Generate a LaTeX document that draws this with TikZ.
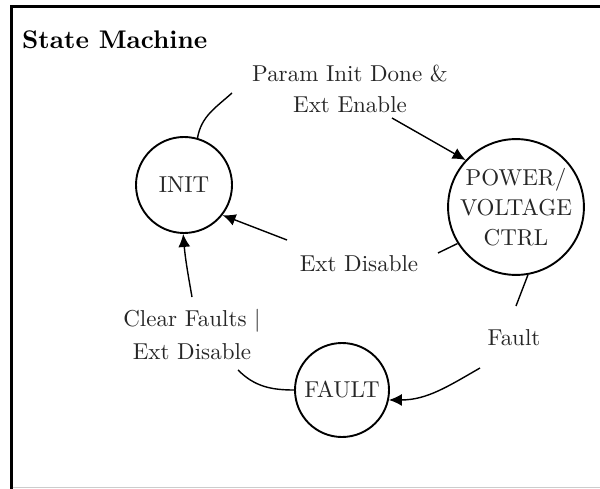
\documentclass[tikz,border=0pt]{standalone}
\usepackage{fontspec}
\setmainfont{lmroman10-regular.otf}[BoldFont=lmroman10-bold.otf]
\usetikzlibrary{arrows.meta}
\begin{document}
\begin{tikzpicture}[x=1pt,y=1pt,
  state/.style={circle,draw=black,line width=1.9pt,inner sep=0pt,align=center,
    font=\fontsize{23}{30}\selectfont,text=black!85},
  trans/.style={draw=black,line width=1.4pt},
  arr/.style={trans,-{Latex[length=13pt,width=12pt]}},
  lbl/.style={align=center,inner sep=0pt,text=black!85}]

\useasboundingbox (0,0) rectangle (600,-489);

% frame
\draw[line width=3pt,line join=miter] (11,-489) -- (11,-7) -- (600,-7);
\draw[black!20,line width=1.2pt] (12.5,-487.5) -- (600,-487.5);

% title
\node[font=\bfseries\fontsize{25.5}{30}\selectfont,anchor=base west,inner sep=0pt] (title) at (22,-49) {State Machine};

% states
\node[state,minimum size=96pt] (init) at (184,-185) {INIT};
\node[state,minimum size=132pt] (pwr) at (516,-207) {POWER/\\VOLTAGE\\CTRL};
\node[state,minimum size=94pt] (fault) at (342,-390) {FAULT};

% transition labels
\node[lbl,font=\fontsize{23}{31}\selectfont] (lenable) at (350,-88.5) {Param Init Done \&\\Ext Enable};
\node[lbl,font=\fontsize{23}{31}\selectfont,anchor=base] (ldisable) at (359,-272) {Ext Disable};
\node[lbl,font=\fontsize{23}{31}\selectfont,anchor=base] (lfault) at (514,-345) {Fault};
\node[lbl,font=\fontsize{23}{33}\selectfont] (lclear) at (192,-335) {Clear Faults \textbar\\Ext Disable};

% free ends of the broken connectors
\coordinate (a1) at (232,-93);
\coordinate (a2) at (392,-118);
\coordinate (b1) at (438,-253);
\coordinate (b2) at (287,-240);
\coordinate (c1) at (516,-306);
\coordinate (c2) at (480,-368);
\coordinate (d1) at (238,-370);
\coordinate (d2) at (192,-297);

% INIT -> POWER/VOLTAGE CTRL
\draw[trans] (init.74) to[out=80,in=222] (a1);
\draw[arr] (a2) -- (pwr.137);

% POWER/VOLTAGE CTRL -> INIT
\draw[trans] (pwr.212) -- (b1);
\draw[arr] (b2) -- (init.322);

% POWER/VOLTAGE CTRL -> FAULT
\draw[trans] (pwr.280) -- (c1);
\draw[arr] (c2) to[out=210,in=0] (fault.-12);

% FAULT -> INIT
\draw[trans] (fault.180) to[out=180,in=-45] (d1);
\draw[arr] (d2) to[out=100,in=-85] (init.269);

\end{tikzpicture}
\end{document}
